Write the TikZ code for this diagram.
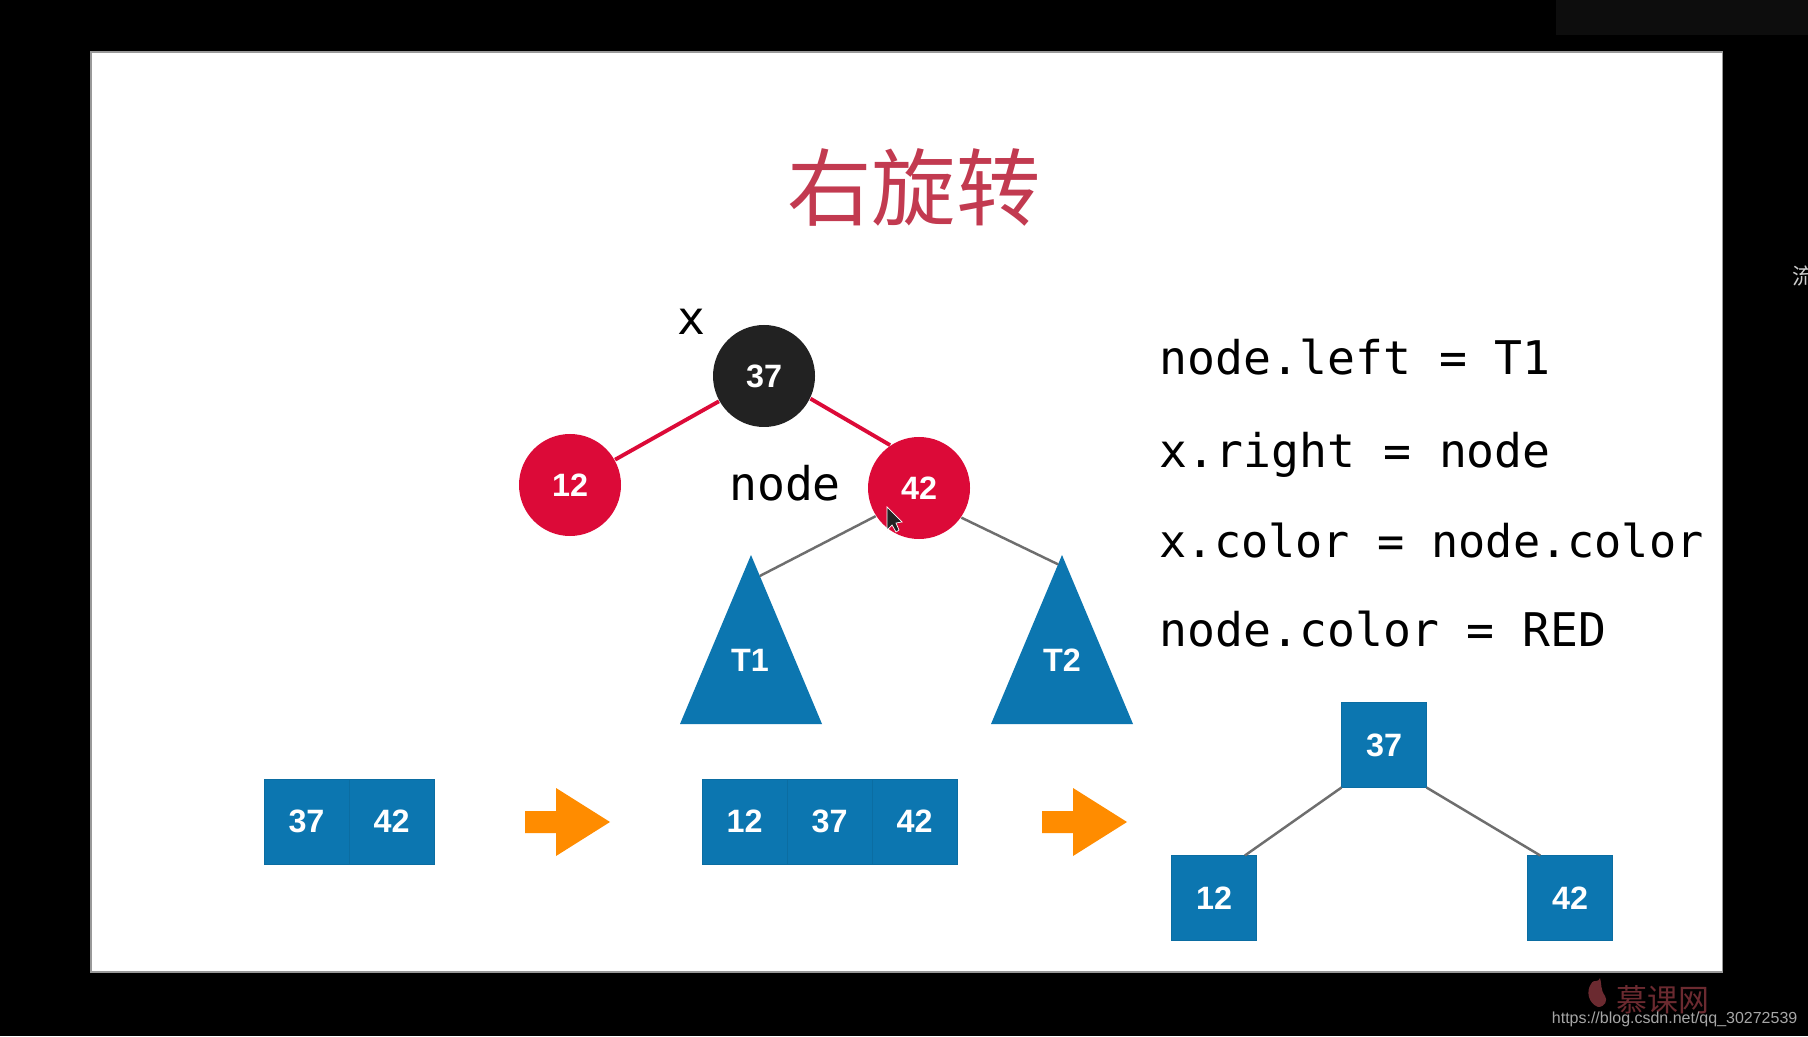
\documentclass[tikz,border=0pt]{standalone}
\usepackage{fontspec}
\setmainfont{Liberation Sans}
\setmonofont{DejaVu Sans Mono}
\newfontfamily\cjkfont{Noto Sans CJK SC}
\usetikzlibrary{arrows.meta,calc,positioning,shapes.geometric}
\definecolor{Slide}{HTML}{FFFFFF}
\definecolor{Band}{HTML}{0D0D0D}
\definecolor{Title}{HTML}{C23A50}
\definecolor{Crimson}{HTML}{DC0A38}
\definecolor{Coal}{HTML}{222222}
\definecolor{Ocean}{HTML}{0C76B0}
\definecolor{Amber}{HTML}{FF8C00}
\definecolor{Wire}{HTML}{6E6E6E}
\definecolor{Mark}{HTML}{6B2A30}
\tikzset{
  numtext/.style={text=white, inner sep=0pt, font=\fontsize{9.2}{11}\selectfont\bfseries},
  circ/.style={circle, minimum size=1.02cm, numtext},
  boxnode/.style={fill=Ocean, draw=Ocean!92!black, line width=0.2pt, minimum size=0.85cm, outer sep=0pt, numtext},
  tri/.style={isosceles triangle, isosceles triangle stretches, shape border rotate=90, fill=Ocean, minimum width=1.42cm, minimum height=1.69cm, inner sep=0pt, outer sep=0pt},
  redge/.style={color=Crimson, line width=1.1pt},
  gedge/.style={color=Wire, line width=0.7pt},
  code/.style={inner sep=0pt, font=\ttfamily\fontsize{13.2}{15}\selectfont},
  turn/.style={fill=Amber}
}
\begin{document}
\begin{tikzpicture}
    \useasboundingbox (0,0) rectangle (18.08,10.36);
    \fill[black] (0,0) rectangle (18.08,10.36);
    \fill[Band] (15.56,10.36) rectangle (18.08,10.01);
    \draw[fill=Slide, draw=gray!80, line width=0.3pt] (0.91,0.64) rectangle (17.22,9.84);
    \begin{scope}
      \clip (0,0) rectangle (18.08,10.36);
      \node[inner sep=0pt, text=gray!40, font=\cjkfont\fontsize{6.3}{8}\selectfont] (side) at (18.04,7.60) {流};
    \end{scope}

    \node[inner sep=0pt, text=Title, font=\cjkfont\fontsize{24}{28}\selectfont] (title) at (9.14,8.49) {右旋转};

    % red-black tree
    \node[circ, fill=Coal] (n37) at (7.64,6.60) {37};
    \node[circ, fill=Crimson] (n12) at (5.70,5.51) {12};
    \node[circ, fill=Crimson] (n42) at (9.19,5.48) {42};
    \node[code] (lx) at (6.91,7.14) {x};
    \node[code] (lnode) at (7.85,5.53) {node};
    \node[tri, anchor=apex] (t1) at (7.51,4.81) {};
    \node[tri, anchor=apex] (t2) at (10.62,4.81) {};
    \node[numtext] (lt1) at (7.50,3.76) {T1};
    \node[numtext] (lt2) at (10.62,3.76) {T2};
    \draw[redge] (n37) -- (n12);
    \draw[redge] (n37.334) -- (n42.124);
    \draw[gedge] (n42.213) -- (t1.85);
    \draw[gedge] (n42.325) -- (t2.92.6);

    % cursor
    \fill[Coal, draw=white, line width=0.2pt] (8.87,5.29) -- (8.87,5.06) -- (8.92,5.11) -- (8.96,5.04) -- (8.99,5.06) -- (8.96,5.13) -- (9.02,5.14) -- cycle;

    % pseudo code
    \node[code, anchor=base west] (c1) at (11.59,6.61) {node.left = T1};
    \node[code, anchor=base west] (c2) at (11.59,5.68) {x.right = node};
    \node[code, anchor=base west, font=\ttfamily\fontsize{12.85}{15}\selectfont] (c3) at (11.59,4.79) {x.color = node.color};
    \node[code, anchor=base west] (c4) at (11.59,3.90) {node.color = RED};

    % arrays
    \node[boxnode] (a37) at (3.065,2.145) {37};
    \node[boxnode, right=0pt of a37] (a42) {42};
    \node[boxnode] (b12) at (7.445,2.145) {12};
    \node[boxnode, right=0pt of b12] (b37) {37};
    \node[boxnode, right=0pt of b37] (b42) {42};

    % rebuilt tree
    \node[boxnode] (s37) at (13.84,2.91) {37};
    \node[boxnode] (s12) at (12.14,1.38) {12};
    \node[boxnode] (s42) at (15.70,1.38) {42};
    \draw[gedge] (s37.south west) -- (s12.54);
    \draw[gedge] (s37.south east) -- (s42.125);

    % turn arrows
    \foreach \ax in {5.25,10.42} {
      \fill[turn] (\ax,2.25) -- ++(0.31,0) -- ++(0,0.23) -- ++(0.54,-0.34) -- ++(-0.54,-0.34) -- ++(0,0.23) -- ++(-0.31,0) -- cycle;
    }

    % watermark
    \fill[Mark] (15.98,0.29) .. controls (15.88,0.33) and (15.86,0.45) .. (15.91,0.52) .. controls (15.94,0.58) and (15.97,0.52) .. (16.0,0.58) .. controls (16.02,0.52) and (16.0,0.47) .. (16.05,0.4) .. controls (16.08,0.36) and (16.05,0.29) .. (15.98,0.29) -- cycle;
    \node[inner sep=0pt, text=Mark, font=\cjkfont\fontsize{8.8}{10}\selectfont] (mark) at (16.63,0.36) {慕课网};
    \node[anchor=base east, inner sep=0pt, text=gray!70, font=\fontsize{4.55}{6}\selectfont] (url) at (17.98,0.13) {https://blog.csdn.net/qq\_30272539};
\end{tikzpicture}
\end{document}
